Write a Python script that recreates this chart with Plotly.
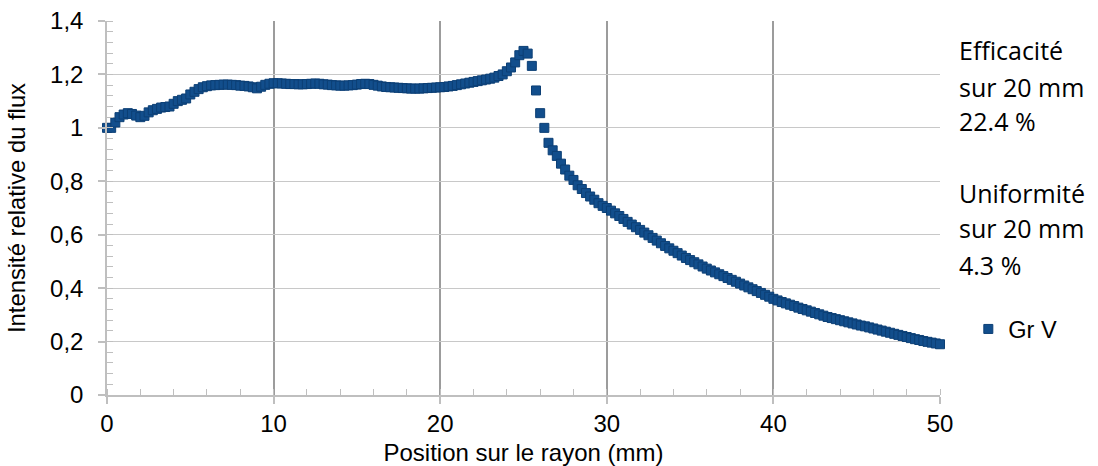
import plotly.graph_objects as go

# ---------------- data ----------------
series_name = "Gr V"

position_mm = [
    0.00, 0.25, 0.50, 0.75, 1.00, 1.25, 1.50, 1.75,
    2.00, 2.25, 2.50, 2.75, 3.00, 3.25, 3.50, 3.75,
    4.00, 4.25, 4.50, 4.75, 5.00, 5.25, 5.50, 5.75,
    6.00, 6.25, 6.50, 6.75, 7.00, 7.25, 7.50, 7.75,
    8.00, 8.25, 8.50, 8.75, 9.00, 9.25, 9.50, 9.75,
    10.00, 10.25, 10.50, 10.75, 11.00, 11.25, 11.50, 11.75,
    12.00, 12.25, 12.50, 12.75, 13.00, 13.25, 13.50, 13.75,
    14.00, 14.25, 14.50, 14.75, 15.00, 15.25, 15.50, 15.75,
    16.00, 16.25, 16.50, 16.75, 17.00, 17.25, 17.50, 17.75,
    18.00, 18.25, 18.50, 18.75, 19.00, 19.25, 19.50, 19.75,
    20.00, 20.25, 20.50, 20.75, 21.00, 21.25, 21.50, 21.75,
    22.00, 22.25, 22.50, 22.75, 23.00, 23.25, 23.50, 23.75,
    24.00, 24.25, 24.50, 24.75, 25.00, 25.25, 25.50, 25.75,
    26.00, 26.25, 26.50, 26.75, 27.00, 27.25, 27.50, 27.75,
    28.00, 28.25, 28.50, 28.75, 29.00, 29.25, 29.50, 29.75,
    30.00, 30.25, 30.50, 30.75, 31.00, 31.25, 31.50, 31.75,
    32.00, 32.25, 32.50, 32.75, 33.00, 33.25, 33.50, 33.75,
    34.00, 34.25, 34.50, 34.75, 35.00, 35.25, 35.50, 35.75,
    36.00, 36.25, 36.50, 36.75, 37.00, 37.25, 37.50, 37.75,
    38.00, 38.25, 38.50, 38.75, 39.00, 39.25, 39.50, 39.75,
    40.00, 40.25, 40.50, 40.75, 41.00, 41.25, 41.50, 41.75,
    42.00, 42.25, 42.50, 42.75, 43.00, 43.25, 43.50, 43.75,
    44.00, 44.25, 44.50, 44.75, 45.00, 45.25, 45.50, 45.75,
    46.00, 46.25, 46.50, 46.75, 47.00, 47.25, 47.50, 47.75,
    48.00, 48.25, 48.50, 48.75, 49.00, 49.25, 49.50, 49.75,
    50.00,
]

relative_intensity = [
    1.000, 1.000, 1.020, 1.040, 1.050, 1.055, 1.052, 1.046,
    1.040, 1.045, 1.058, 1.066, 1.071, 1.076, 1.078, 1.080,
    1.090, 1.100, 1.105, 1.110, 1.125, 1.135, 1.145, 1.152,
    1.156, 1.159, 1.160, 1.161, 1.162, 1.162, 1.161, 1.160,
    1.158, 1.157, 1.155, 1.152, 1.148, 1.154, 1.161, 1.165,
    1.167, 1.167, 1.166, 1.165, 1.164, 1.164, 1.163, 1.163,
    1.164, 1.165, 1.166, 1.165, 1.163, 1.162, 1.160, 1.159,
    1.158, 1.158, 1.159, 1.160, 1.162, 1.164, 1.165, 1.164,
    1.161, 1.158, 1.155, 1.153, 1.152, 1.151, 1.150, 1.149,
    1.148, 1.147, 1.147, 1.147, 1.148, 1.149, 1.150, 1.151,
    1.152, 1.153, 1.155, 1.157, 1.160, 1.163, 1.166, 1.169,
    1.172, 1.175, 1.178, 1.181, 1.184, 1.188, 1.194, 1.200,
    1.212, 1.226, 1.245, 1.272, 1.288, 1.278, 1.232, 1.140,
    1.055, 1.000, 0.944, 0.916, 0.895, 0.866, 0.844, 0.821,
    0.805, 0.785, 0.771, 0.756, 0.743, 0.731, 0.718, 0.708,
    0.700, 0.690, 0.680, 0.670, 0.659, 0.648, 0.638, 0.628,
    0.618, 0.608, 0.598, 0.588, 0.578, 0.568, 0.558, 0.549,
    0.540, 0.531, 0.522, 0.513, 0.505, 0.497, 0.489, 0.481,
    0.473, 0.466, 0.459, 0.452, 0.445, 0.438, 0.431, 0.424,
    0.417, 0.410, 0.403, 0.396, 0.389, 0.382, 0.375, 0.368,
    0.360, 0.354, 0.348, 0.343, 0.338, 0.333, 0.327, 0.322,
    0.317, 0.312, 0.307, 0.302, 0.297, 0.292, 0.288, 0.284,
    0.280, 0.276, 0.272, 0.268, 0.264, 0.260, 0.257, 0.253,
    0.249, 0.245, 0.241, 0.237, 0.233, 0.229, 0.225, 0.221,
    0.217, 0.213, 0.209, 0.206, 0.202, 0.199, 0.196, 0.193,
    0.190,
]

x_tick_values = [0, 10, 20, 30, 40, 50]
x_tick_labels = ["0", "10", "20", "30", "40", "50"]
y_tick_values = [0, 0.2, 0.4, 0.6, 0.8, 1.0, 1.2, 1.4]
y_tick_labels = ["0", "0,2", "0,4", "0,6", "0,8", "1", "1,2", "1,4"]

x_title = "Position sur le rayon (mm)"
y_title = "Intensité relative du flux"

side_text_lines = ["Efficacité", "sur 20 mm", "22.4 %",
                   "Uniformité", "sur 20 mm", "4.3 %"]
side_text_y = [0.922, 0.8235, 0.732, 0.540, 0.446, 0.347]

assert len(position_mm) == len(relative_intensity)

# ---------------- figure ----------------
FONT = "Liberation Sans, Arial, sans-serif"
MARKER_FILL = "#124E8C"
MARKER_EDGE = "#0C3F75"

fig = go.Figure()
fig.add_trace(go.Scatter(
    x=position_mm,
    y=relative_intensity,
    mode="markers",
    name=series_name,
    marker=dict(symbol="square", size=9, color=MARKER_FILL,
                line=dict(color=MARKER_EDGE, width=1)),
    cliponaxis=False,
    showlegend=True,
))

for txt, yy in zip(side_text_lines, side_text_y):
    fig.add_annotation(
        text=txt, xref="paper", yref="paper", x=1.0204, y=yy,
        xanchor="left", yanchor="middle", showarrow=False,
        font=dict(family="Open Sans, sans-serif", size=25, color="#000000"),
    )

fig.update_layout(
    width=1098, height=466,
    margin=dict(l=107, r=158, t=21, b=71, autoexpand=False),
    paper_bgcolor="white", plot_bgcolor="white",
    font=dict(family=FONT, size=24, color="#000000"),
    separators=", ",
    showlegend=True,
    legend=dict(x=1.034, y=0.176, xanchor="left", yanchor="middle",
                font=dict(family=FONT, size=23.5, color="#000000"),
                bgcolor="rgba(0,0,0,0)", itemwidth=30),
)

fig.update_xaxes(
    range=[0, 50], automargin=False,
    tickvals=x_tick_values, ticktext=x_tick_labels,
    showgrid=True, gridcolor="#9c9c9c", gridwidth=1.5,
    showline=True, linecolor="#bfbfbf", linewidth=1.5,
    zeroline=False,
    ticks="outside", ticklen=7, tickcolor="#bfbfbf", tickwidth=1.5,
    ticklabelstandoff=-1,
    minor=dict(dtick=2, ticks="inside", ticklen=6, tickcolor="#bfbfbf",
               tickwidth=1, showgrid=False),
    title=dict(text=x_title, font=dict(family=FONT, size=24), standoff=12),
    tickfont=dict(family=FONT, size=24),
)

fig.update_yaxes(
    range=[0, 1.4], automargin=False,
    tickvals=y_tick_values, ticktext=y_tick_labels,
    showgrid=True, gridcolor="#c8c8c8", gridwidth=1.2,
    showline=True, linecolor="#bfbfbf", linewidth=1.5,
    zeroline=False,
    ticks="outside", ticklen=7, tickcolor="#bfbfbf", tickwidth=1.5,
    ticklabelstandoff=10,
    minor=dict(dtick=0.04, ticks="inside", ticklen=6, tickcolor="#bfbfbf",
               tickwidth=1, showgrid=False),
    title=dict(text=y_title, font=dict(family=FONT, size=23.8), standoff=18),
    tickfont=dict(family=FONT, size=24),
)

fig.write_html("out.html")
